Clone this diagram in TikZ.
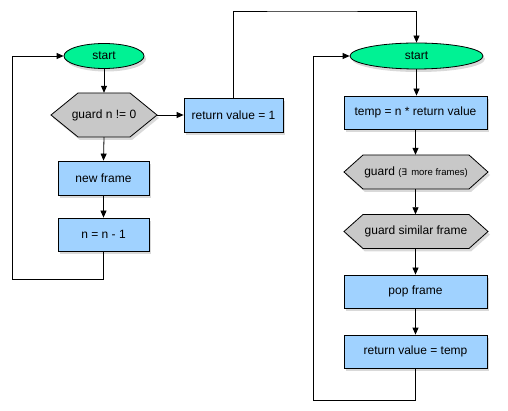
\documentclass[tikz,border=0pt]{standalone}
\usepackage{fontspec}
\setmainfont{Liberation Sans}
\newfontfamily\dejavu{DejaVu Sans}
\usetikzlibrary{arrows.meta,shadows,shapes.geometric}
\definecolor{startgreen}{RGB}{0,242,148}
\definecolor{boxblue}{RGB}{160,210,255}
\definecolor{hexgray}{RGB}{200,200,200}
\tikzset{
  base/.style={draw=black, line width=0.8pt, inner sep=0pt,
    font=\fontsize{12}{14}\selectfont,
    drop shadow={shadow xshift=2pt, shadow yshift=-3pt, opacity=0.3}},
  startnode/.style={base, ellipse, fill=startgreen},
  procbox/.style={base, rectangle, fill=boxblue},
  hexshape/.style={draw=black, line width=0.8pt, fill=hexgray,
    drop shadow={shadow xshift=2pt, shadow yshift=-3pt, opacity=0.3}},
  hexlabel/.style={inner sep=0pt, font=\fontsize{12}{14}\selectfont},
  arr/.style={draw=black, line width=0.8pt, -{Triangle[length=7pt,width=6pt]}},
  conn/.style={draw=black, line width=0.8pt}
}
% name, cx, cy, w, h, inset, text
\newcommand\hexnode[7]{%
  \path[hexshape] ({#2-#4/2},#3) -- ({#2-#4/2+#6},{#3-#5/2}) -- ({#2+#4/2-#6},{#3-#5/2})
     -- ({#2+#4/2},#3) -- ({#2+#4/2-#6},{#3+#5/2}) -- ({#2-#4/2+#6},{#3+#5/2}) -- cycle;
  \node[hexlabel, minimum width=#4, minimum height=#5] (#1) at (#2,#3) {#7};
}
\begin{document}
\begin{tikzpicture}[x=1pt,y=-1pt]
\useasboundingbox (0,0) rectangle (508,411);
% left column
\node[startnode, minimum width=80, minimum height=25] (startL) at (104,56) {start};
\hexnode{guardL}{104}{115}{106}{44}{27}{guard n != 0}
\node[procbox, minimum width=99, minimum height=34] (retone) at (233.5,115) {return value = 1};
\node[procbox, minimum width=91, minimum height=34] (newf) at (103.5,178) {new frame};
\node[procbox, minimum width=91, minimum height=33] (dec) at (103.5,234.5) {n = n - 1};
% right column
\node[startnode, minimum width=133, minimum height=26] (startR) at (416.5,56) {start};
\node[procbox, minimum width=143, minimum height=33] (temp) at (415.5,112.5) {temp = n * return value};
\hexnode{guardM}{416}{172}{144}{34}{19}{guard {\fontsize{9.5}{11}\selectfont(\dejavu\fontsize{9}{11}\selectfont ∃\,\normalfont\fontsize{9.5}{11}\selectfont\ more frames)}}
\hexnode{guardS}{416}{231.5}{144}{34}{19}{guard similar frame}
\node[procbox, minimum width=143, minimum height=33] (pop) at (415.5,291.5) {pop frame};
\node[procbox, minimum width=143, minimum height=33] (rvt) at (415.5,351.5) {return value = temp};
% coordinates
\coordinate (loopL) at (12,279);
\coordinate (loopR) at (313,400);
\coordinate (topc) at (300,11);
% connectors left
\draw[arr] (startL.south) -- (guardL.south |- guardL.north);
\draw[arr] (guardL.south) -- (newf.north);
\draw[arr] (newf.south) -- (dec.north);
\draw[arr] (guardL.east) -- (retone.west);
\draw[arr] (dec.south) |- (loopL) |- (startL.west);
\draw[arr] (retone.north) |- (topc) -| (startR.north);
% connectors right
\draw[arr] (startR.south) -- (startR.south |- temp.north);
\draw[arr] (temp.south) -- (temp.south |- guardM.north);
\draw[arr] (temp.south |- guardM.south) -- (temp.south |- guardS.north);
\draw[arr] (temp.south |- guardS.south) -- (pop.north);
\draw[arr] (pop.south) -- (rvt.north);
\draw[arr] (rvt.south) |- (loopR) |- (startR.west);
\end{tikzpicture}
\end{document}
